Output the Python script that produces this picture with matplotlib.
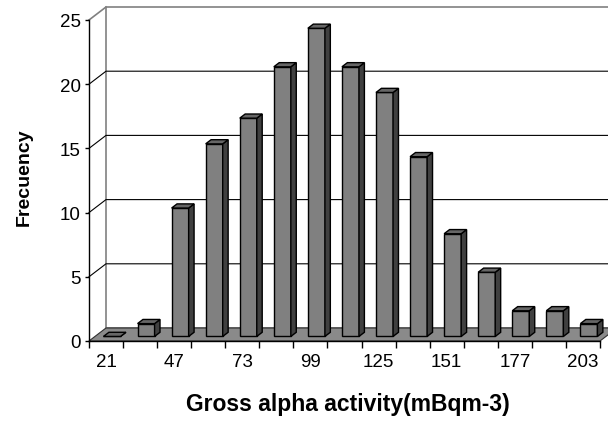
import matplotlib
matplotlib.use('Agg')
import matplotlib.pyplot as plt
from matplotlib.patches import Polygon
import numpy as np

plt.rcParams['font.family'] = ['Liberation Sans', 'DejaVu Sans']

# class marks (mBq m-3) and counts per class
bins = [21, 34, 47, 60, 73, 86, 99, 112, 125, 138, 151, 164, 177, 190, 203]
counts = [0, 1, 10, 15, 17, 21, 24, 21, 19, 14, 8, 5, 2, 2, 1]
yticks = [0, 5, 10, 15, 20, 25]
xlabel = 'Gross alpha activity(mBqm-3)'
ylabel = 'Frecuency'

W, H = 608, 427
# pixel geometry of the front plane of the fake 3d box
px_left, px_right = 89, 600
px_zero, px_top = 342, 21
depth_px = (17, 13)
f0, f1 = 0.35, 0.67   # bar front/back as fraction of box depth

fig = plt.figure(figsize=(W / 100, H / 100), dpi=100)
ax = fig.add_axes([0, 0, 1, 1])
ax.patch.set_visible(False)

n = len(bins)
ymax = yticks[-1]
sx = (px_right - px_left) / n
sy = (px_zero - px_top) / ymax
ax.set_xlim(-px_left / sx, n + (W - px_right) / sx)
ax.set_ylim(-(H - px_zero) / sy, ymax + px_top / sy)
ddx = depth_px[0] / sx
ddy = depth_px[1] / sy

wall = '#808080'
# back wall
ax.add_patch(Polygon([(ddx, ddy), (n + ddx, ddy), (n + ddx, ymax + ddy), (ddx, ymax + ddy)],
                     closed=True, facecolor='white', edgecolor=wall, lw=1.2, zorder=0.5))
ax.plot([0, ddx], [ymax, ymax + ddy], color=wall, lw=1.2, zorder=0.6)

# gridlines on the wall and the side
for y in yticks[1:-1]:
    ax.plot([0, ddx, n + ddx], [y, y + ddy, y + ddy], color='black', lw=0.8, zorder=0.6)

# floor
ax.add_patch(Polygon([(0, 0), (n, 0), (n + ddx, ddy), (ddx, ddy)],
                     closed=True, facecolor='#8a8a8a', edgecolor='#303030', lw=0.8, zorder=0.7))

# bars
bw = 0.5
dpx, dpy = (f1 - f0) * ddx, (f1 - f0) * ddy
for i, v in enumerate(counts):
    x0 = i + (1 - bw) / 2 + f0 * ddx
    y0 = f0 * ddy
    ax.bar(x0, v, width=bw, bottom=y0, align='edge', color='#808080',
           edgecolor='black', lw=1.0, zorder=2 + i * 0.01)
    ax.add_patch(Polygon([(x0 + bw, y0), (x0 + bw + dpx, y0 + dpy),
                          (x0 + bw + dpx, y0 + v + dpy), (x0 + bw, y0 + v)],
                         closed=True, facecolor='#404040', edgecolor='black', lw=1.0,
                         zorder=2 + i * 0.01))
    ax.add_patch(Polygon([(x0, y0 + v), (x0 + bw, y0 + v),
                          (x0 + bw + dpx, y0 + v + dpy), (x0 + dpx, y0 + v + dpy)],
                         closed=True, facecolor='#666666', edgecolor='black', lw=1.0,
                         zorder=2 + i * 0.01))

# front axes
ax.spines['top'].set_visible(False)
ax.spines['right'].set_visible(False)
ax.spines['left'].set_position(('data', 0))
ax.spines['bottom'].set_position(('data', 0))
ax.spines['left'].set_bounds(0, ymax)
ax.spines['bottom'].set_bounds(0, n)
for s in ('left', 'bottom'):
    ax.spines[s].set_linewidth(1.0)
    ax.spines[s].set_zorder(3)

ax.set_yticks(yticks)
ax.set_yticklabels([str(t) for t in yticks])
ax.tick_params(axis='y', direction='out', length=3, width=1.0, labelsize=13.5, pad=3)

ax.set_xticks(np.arange(n + 1))
ax.set_xticklabels([])
ax.set_xticks(np.arange(0, n, 2) + 0.5, minor=True)
ax.set_xticklabels([str(b) for b in bins[::2]], minor=True)
ax.tick_params(axis='x', which='major', direction='out', length=5, width=1.0)
ax.tick_params(axis='x', which='minor', length=0, labelsize=13.5, pad=9)

fig.text(24 / W, 1 - 177 / H, ylabel, rotation=90, ha='center', va='center',
         fontsize=14, fontweight='bold')
fig.text(348 / W, 1 - 405 / H, xlabel, ha='center', va='center',
         fontsize=16.5, fontweight='bold')

fig.savefig('out.png', dpi=100)
